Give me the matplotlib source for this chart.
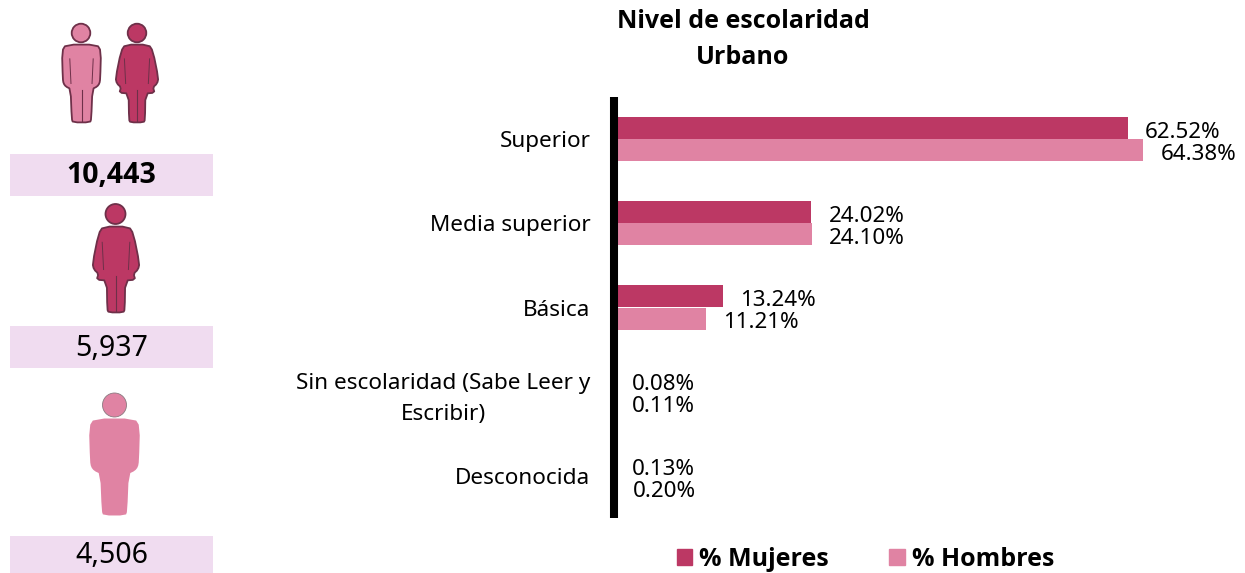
import matplotlib
matplotlib.use('Agg')
import matplotlib.pyplot as plt
from matplotlib.patches import Polygon, Circle, Rectangle, Patch

plt.rcParams['font.family'] = ['Noto Sans', 'DejaVu Sans']

categorias = ['Superior', 'Media superior', 'Básica',
              'Sin escolaridad (Sabe Leer y\nEscribir)', 'Desconocida']
mujeres = [62.52, 24.02, 13.24, 0.08, 0.13]
hombres = [64.38, 24.10, 11.21, 0.11, 0.20]
totales = ['10,443', '5,937', '4,506']

OSCURO = '#BC3864'
CLARO = '#E083A3'
LILA = '#F0DCF0'
BORDE = '#6E3049'
NEGRITA = ['Open Sans', 'DejaVu Sans']

W, H = 1245, 573
fig = plt.figure(figsize=(W / 100, H / 100), dpi=100)

# capa en pixeles para iconos y cajas
bg = fig.add_axes([0, 0, 1, 1])
bg.set_xlim(0, W)
bg.set_ylim(H, 0)
bg.axis('off')

hombre_forma = [(0.1, -0.005), (0.9, -0.005), (1.0, 0.08), (0.98, 0.44), (0.96, 0.5), (0.9, 0.54),
                (0.78, 0.57), (0.75, 0.96), (0.72, 1.005), (0.28, 1.005), (0.25, 0.96), (0.22, 0.57),
                (0.1, 0.54), (0.04, 0.5), (0.02, 0.44), (0.0, 0.08)]
mujer_forma = [(0.22, -0.005), (0.78, -0.005), (0.88, 0.08), (1.01, 0.43), (0.98, 0.5), (0.88, 0.55),
               (0.92, 0.62), (0.7, 0.63), (0.69, 0.97), (0.66, 1.005), (0.34, 1.005), (0.31, 0.97),
               (0.3, 0.63), (0.08, 0.62), (0.12, 0.55), (0.02, 0.5), (-0.01, 0.43), (0.12, 0.08)]


def suavizar(pts, n=1):
    # recorta las esquinas para que la silueta quede redondeada
    for _ in range(n):
        nuevo = []
        for i in range(len(pts)):
            a = pts[i]
            b = pts[(i + 1) % len(pts)]
            nuevo.append((0.75 * a[0] + 0.25 * b[0], 0.75 * a[1] + 0.25 * b[1]))
            nuevo.append((0.25 * a[0] + 0.75 * b[0], 0.25 * a[1] + 0.75 * b[1]))
        pts = nuevo
    return pts


def persona(forma, x0, x1, y0, y1, cx, cy, r, color, borde=None):
    pts = suavizar([(x0 + a * (x1 - x0), y0 + b * (y1 - y0)) for a, b in forma])
    lw = 1.3 if borde else 0
    ec = borde if borde else color
    bg.add_patch(Polygon(pts, closed=True, fc=color, ec=ec, lw=lw, joinstyle='round'))
    bg.add_patch(Circle((cx, cy), r, fc=color, ec=ec if borde else '#8a7a80', lw=1.3 if borde else 0.6))
    if borde:
        # lineas interiores de brazos y piernas
        xm = (x0 + x1) / 2
        w = x1 - x0
        h = y1 - y0
        bg.plot([xm, xm], [y0 + 0.58 * h, y1 - 0.01 * h], color=borde, lw=0.8)
        bg.plot([xm - 0.3 * w, xm - 0.27 * w], [y0 + 0.18 * h, y0 + 0.5 * h], color=borde, lw=0.7)
        bg.plot([xm + 0.3 * w, xm + 0.27 * w], [y0 + 0.18 * h, y0 + 0.5 * h], color=borde, lw=0.7)


persona(hombre_forma, 62, 101, 45, 122, 81, 33, 9.3, CLARO, BORDE)
persona(mujer_forma, 116, 158, 45, 122, 137, 33, 9.3, OSCURO, BORDE)
persona(mujer_forma, 93, 139, 227, 312, 115.5, 214, 10, OSCURO, BORDE)
persona(hombre_forma, 89, 140, 419, 515, 114.5, 405, 12, CLARO)

cajas = [(154, 196), (326, 368), (536, 573)]
for i, (t, caja) in enumerate(zip(totales, cajas)):
    bg.add_patch(Rectangle((10, caja[0]), 203, caja[1] - caja[0], fc=LILA, ec='none'))
    if i == 0:
        bg.text(111.5, (caja[0] + caja[1]) / 2 + 0.5, t, ha='center', va='center', fontsize=20.5,
                color='black', family=NEGRITA, fontweight='bold')
    else:
        bg.text(111.5, (caja[0] + caja[1]) / 2 + 1, t, ha='center', va='center', fontsize=20.5, color='black')

# grafica de barras
ax = fig.add_axes([614 / W, (H - 518) / H, (W - 614) / W, 421 / H])
ax.patch.set_alpha(0)
escala = 8.22
ax.set_xlim(0, (W - 614) / escala)
ax.set_ylim(4.5, -0.5)
alto = 22 / 84
yy = list(range(len(categorias)))
b1 = ax.barh([y - alto / 2 for y in yy], mujeres, height=alto, color=OSCURO)
b2 = ax.barh([y + alto / 2 for y in yy], hombres, height=alto, color=CLARO)

for barras, vals in ((b1, mujeres), (b2, hombres)):
    for b, v in zip(barras, vals):
        ax.annotate('%.2f%%' % v, (v, b.get_y() + b.get_height() / 2), xytext=(12.3, -3),
                    textcoords='offset points', ha='left', va='center', fontsize=16.1, color='black')

ax.set_yticks(yy)
ax.set_yticklabels(categorias, fontsize=16.2, multialignment='center', linespacing=1.6)
ax.tick_params(axis='y', length=0, pad=17)
ax.set_xticks([])
for lado in ['top', 'right', 'bottom']:
    ax.spines[lado].set_visible(False)
ax.spines['left'].set_linewidth(5.8)
ax.spines['left'].set_color('black')
ax.spines['left'].set_capstyle('butt')

fig.text(743 / W, 1 - 22 / H, 'Nivel de escolaridad', ha='center', va='center', fontsize=18,
         family=NEGRITA, fontweight='bold')
fig.text(743 / W, 1 - 58 / H, 'Urbano', ha='center', va='center', fontsize=18,
         family=NEGRITA, fontweight='bold')

fig.legend(handles=[Patch(color=OSCURO, label='% Mujeres'), Patch(color=CLARO, label='% Hombres')],
           ncol=2, frameon=False, loc='center', bbox_to_anchor=(865.5 / W, 1 - 559 / H),
           prop={'size': 18, 'weight': 'bold', 'family': NEGRITA}, handlelength=0.62, handleheight=0.62,
           handletextpad=0.28, columnspacing=2.4, borderpad=0)

fig.savefig('out.png', dpi=100)
